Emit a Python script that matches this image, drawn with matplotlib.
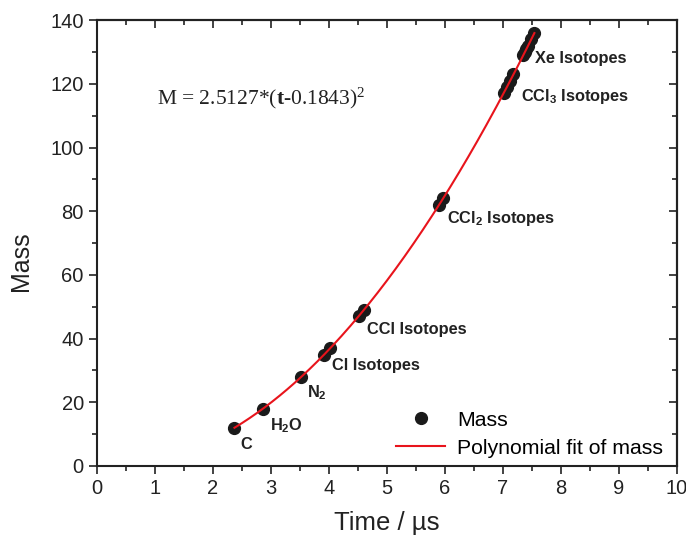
import matplotlib.pyplot as plt
import numpy as np
from matplotlib.ticker import MultipleLocator

plt.rcParams['font.family'] = ['Liberation Sans', 'DejaVu Sans']
plt.rcParams['mathtext.fontset'] = 'custom'
plt.rcParams['mathtext.rm'] = 'Liberation Serif'
plt.rcParams['mathtext.it'] = 'Liberation Serif:bold'
plt.rcParams['mathtext.bf'] = 'Liberation Sans:bold'

# measured peaks: flight time (us) and mass
time_us = [2.37, 2.86, 3.52, 3.92, 4.02, 4.51, 4.60, 5.90, 5.97,
           7.01, 7.07, 7.12, 7.18, 7.35, 7.38, 7.40, 7.43, 7.49, 7.54]
mass = [12, 18, 28, 35, 37, 47, 49, 82, 84,
        117, 119, 121, 123, 129, 130, 131, 132, 134, 136]

# fit coefficients shown on the chart
fit_a = 2.5127
fit_t0 = 0.1843

peak_labels = ['C', r'H$_\mathbf{2}$O', r'N$_\mathbf{2}$', 'Cl Isotopes', 'CCl Isotopes',
               r'CCl$_\mathbf{2}$ Isotopes', r'CCl$_\mathbf{3}$ Isotopes', 'Xe Isotopes']
label_x = [2.47, 2.98, 3.62, 4.05, 4.66, 6.03, 7.31, 7.55]
label_y = [6.6, 12.6, 22.9, 31.4, 43.0, 77.8, 116.1, 128.0]


def main():
    fig = plt.figure(figsize=(6.86, 5.45), dpi=100)
    ax = fig.add_axes([0.1414, 0.145, 0.8456, 0.818])

    t_fit = np.linspace(min(time_us), max(time_us), 200)
    m_fit = fit_a * (t_fit - fit_t0) ** 2

    ax.plot(time_us, mass, 'o', color='#1a1a1a', ms=8.5, label='Mass', zorder=2)
    ax.plot(t_fit, m_fit, color='#e8141c', lw=1.5, label='Polynomial fit of mass', zorder=3)

    for txt, x, y in zip(peak_labels, label_x, label_y):
        ax.text(x, y, txt, fontsize=11.8, fontweight='bold', color='#222222',
                ha='left', va='center')

    ax.text(1.03, 115.5, r'M = 2.5127*($\mathit{t}$-0.1843)$^{2}$',
            fontsize=15.5, family='Liberation Serif', ha='left', va='center',
            color='#222222')

    ax.set_xlim(0, 10)
    ax.set_ylim(0, 140)
    ax.xaxis.set_major_locator(MultipleLocator(1))
    ax.xaxis.set_minor_locator(MultipleLocator(0.5))
    ax.yaxis.set_major_locator(MultipleLocator(20))
    ax.yaxis.set_minor_locator(MultipleLocator(10))
    ax.tick_params(which='both', direction='out', width=1.2, labelsize=14.5,
                   colors='#222222')
    ax.tick_params(which='major', length=6)
    ax.tick_params(which='minor', length=3.5)
    for s in ax.spines.values():
        s.set_linewidth(1.5)
        s.set_color('#222222')

    top = ax.secondary_xaxis('top')
    top.xaxis.set_major_locator(MultipleLocator(1))
    top.xaxis.set_minor_locator(MultipleLocator(0.5))
    top.tick_params(which='both', direction='in', width=1.2, labeltop=False,
                    colors='#222222')
    top.tick_params(which='major', length=6)
    top.tick_params(which='minor', length=3.5)
    top.spines['top'].set_linewidth(1.5)

    right = ax.secondary_yaxis('right')
    right.yaxis.set_major_locator(MultipleLocator(20))
    right.yaxis.set_minor_locator(MultipleLocator(10))
    right.tick_params(which='both', direction='in', width=1.2, labelright=False,
                      colors='#222222')
    right.tick_params(which='major', length=6)
    right.tick_params(which='minor', length=3.5)
    right.spines['right'].set_linewidth(1.5)

    ax.set_xlabel('Time / µs', fontsize=18.5, color='#222222', labelpad=9)
    ax.set_ylabel('Mass', fontsize=18, color='#222222')
    ax.yaxis.set_label_coords(-0.110, 0.46)

    ax.legend(loc='lower right', bbox_to_anchor=(1.0, -0.013), frameon=False,
              fontsize=15.3, handlelength=2.3, handletextpad=0.56,
              labelspacing=0.43, borderaxespad=0.26)

    plt.savefig('out.png')


if __name__ == '__main__':
    main()
